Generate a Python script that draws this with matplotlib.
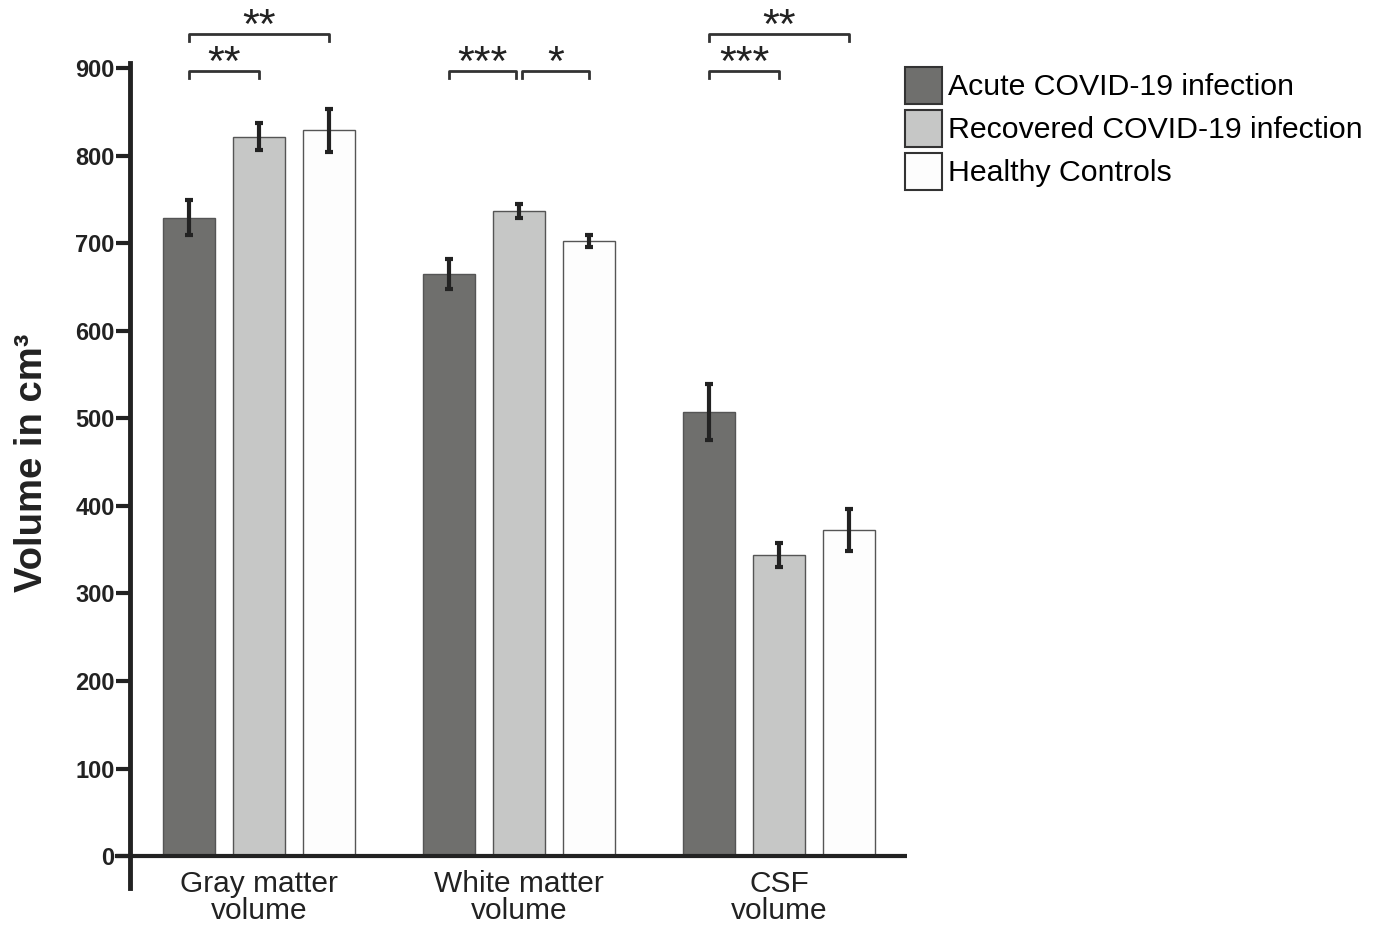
import numpy as np
import matplotlib
matplotlib.use("Agg")
import matplotlib.pyplot as plt
from matplotlib.patches import Patch

plt.rcParams['font.family'] = ['Liberation Sans', 'DejaVu Sans']

categories = ["Gray matter\nvolume", "White matter\nvolume", "CSF\nvolume"]
groups = ["Acute COVID-19 infection", "Recovered COVID-19 infection", "Healthy Controls"]
acute = [729, 665, 507]
recovered = [822, 737, 344]
healthy = [829, 703, 372]
acute_err = [20, 17, 32]
recovered_err = [15, 8, 14]
healthy_err = [25, 7, 24]
colors = ["#6f6f6d", "#c6c7c6", "#fdfdfd"]

# brackets: (group, bar a, bar b, height, stars)
brackets = [
    (0, 0, 1, 897, "**"), (0, 0, 2, 939, "**"),
    (1, 0, 1, 897, "***"), (1, 1, 2, 897, "*"),
    (2, 0, 1, 897, "***"), (2, 0, 2, 939, "**"),
]

fig = plt.figure(figsize=(13.81, 9.33), dpi=100)
ax = fig.add_axes([130/1381, 1-888/933, (907-130)/1381, (888-63)/933])

gap = 260/70.0
width = 52/70.0
centers = np.arange(len(categories)) * gap
values = [acute, recovered, healthy]
errs = [acute_err, recovered_err, healthy_err]
for k in range(3):
    xs = centers + (k - 1)
    ax.bar(xs, values[k], width=width, color=colors[k], edgecolor="#555555", linewidth=1.0, zorder=2)
    ax.errorbar(xs, values[k], yerr=errs[k], fmt="none", ecolor="#222222", elinewidth=3,
                capsize=3, capthick=3, zorder=3)

ax.set_xlim((130-259)/70.0, (907-259)/70.0)
ax.set_ylim(-36.5, 906)
ax.axhline(0, color="#222222", lw=3, zorder=4)
ax.plot([(117-259)/70.0, (130-259)/70.0], [0, 0], color="#222222", lw=3, clip_on=False)

for s in ["top", "right", "bottom"]:
    ax.spines[s].set_visible(False)
ax.spines["left"].set_linewidth(3.5)
ax.spines["left"].set_color("#222222")
ax.set_xticks([])
ax.set_yticks(np.arange(0, 901, 100))
ax.tick_params(axis="y", length=10, width=3, color="#222222", pad=1)
for t in ax.get_yticklabels():
    t.set_fontweight("bold")
    t.set_fontsize(17)
    t.set_color("#222222")

for c, lab in zip(centers, categories):
    ax.text(c, -16, lab, ha="center", va="top", fontsize=21.5, color="#222222",
            linespacing=0.95, clip_on=False)

for g, a, b, h, stars in brackets:
    xa = centers[g] + a - 1
    xb = centers[g] + b - 1
    if b - a == 1 and stars == "*":
        xa += 0.04
    elif b - a == 1 and g == 1:
        xb -= 0.04
    ax.plot([xa, xa, xb, xb], [h - 8, h, h, h - 8], color="#333333", lw=2, clip_on=False)
    ax.text((xa + xb) / 2, h - 5, stars, ha="center", va="baseline", fontsize=31,
            color="#222222", clip_on=False)

fig.text(32/1381, 1-463/933, "Volume in cm³", rotation=90, ha="center", va="center",
         fontsize=27.5, fontweight="bold", color="#222222")

handles = [Patch(facecolor=colors[k], edgecolor="#333333", linewidth=1.5) for k in range(3)]
fig.legend(handles, groups, loc="upper left", bbox_to_anchor=(905/1381, 1-67/933),
           frameon=False, fontsize=21.8, handlelength=1.22, handleheight=1.5,
           handletextpad=0.2, labelspacing=0.2, borderaxespad=0, borderpad=0)

fig.savefig("out.png", dpi=100)
